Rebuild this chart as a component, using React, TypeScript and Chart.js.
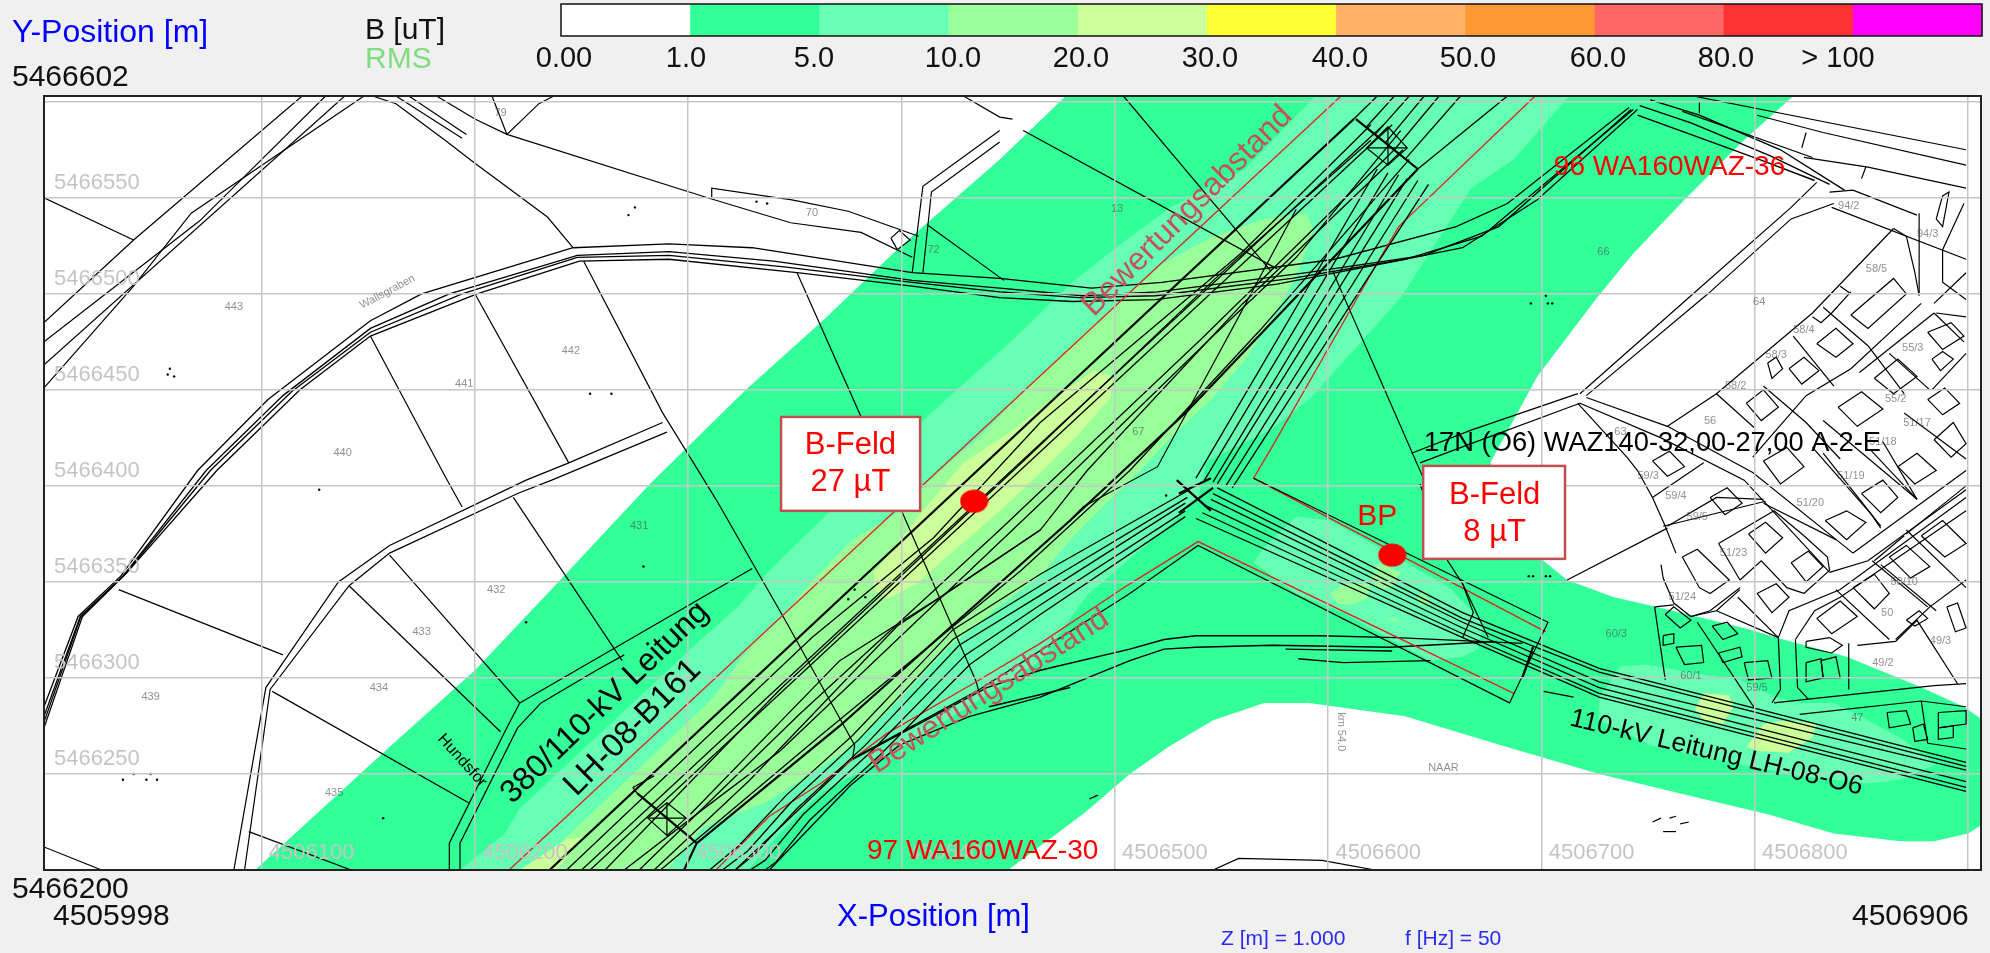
import React, { useEffect, useRef } from "react";
import { Chart, registerables } from "chart.js";

Chart.register(...registerables);

const E0 = 4506000;
const N0 = 5466200;
const FONT = '"Liberation Sans", Arial, sans-serif';

const xTicks = [4506100, 4506200, 4506300, 4506400, 4506500, 4506600, 4506700, 4506800, 4506900];
const yTicks = [5466250, 5466300, 5466350, 5466400, 5466450, 5466500, 5466550, 5466600];
const xLabelled = [4506100, 4506200, 4506300, 4506400, 4506500, 4506600, 4506700, 4506800];
const yLabelled = [5466250, 5466300, 5466350, 5466400, 5466450, 5466500, 5466550];

const legendColors = ["#ffffff", "#33ff99", "#66ffb3", "#99ff99", "#ccff99", "#ffff33", "#ffb266", "#ff9933", "#ff6666", "#ff3333", "#ff00ff"];
const legendLabels = ["0.00", "1.0", "5.0", "10.0", "20.0", "30.0", "40.0", "50.0", "60.0", "80.0", "> 100"];
const legendLabelX = [564, 686, 814, 953, 1081, 1210, 1340, 1468, 1598, 1726, 1838];

// field zones, metres east / north of E0, N0
const zone1 = [97,0,157,61,200,104,240,151,282,201,327,250,363,286,396,321,411,336,446,370,477,403,818,403,794,379,767,349,743,321,726,298,698,257,676,212,688,174,702,160,712,151,734,142,754,137,795,126,810,121,843,111,876,96,898,85,907,78,907,24,900,19,884,15,868,15,837,19,806,29,768,39,727,50,681,65,636,80,591,87,570,87,546,78,525,64,507,50,486,30,450,0];
const zone5Main = [193,0,214,19,221,32,301,115,323,137,338,156,362,182,409,233,426,250,452,276,480,306,504,327,526,345,561,365,594,403,713,403,687,370,667,355,634,298,592,246,573,229,543,213,539,193,527,181,487,143,465,109,440,91,424,80,393,59,362,40,343,19,328,0];
const zone5Bp = [565,160,570,168,585,184,601,182,632,163,657,147,667,135,673,129,670,115,663,111,648,109,629,120,607,134,585,144];
const zone5East = [727,90,737,106,749,107,774,102,793,99,810,90,821,87,837,87,853,78,868,69,885,55,868,47,853,45,821,49,784,57,751,65,727,78];
const zone10Main = [231,0,240,14,312,90,330,118,344,132,360,153,377,172,398,186,417,207,437,226,456,248,473,266,487,281,523,316,546,330,570,339,590,342,593,333,585,309,579,297,562,267,546,246,527,226,512,208,496,191,479,172,465,153,443,135,421,115,399,89,374,62,338,36,307,22,290,0];
const zone10Bp1 = [620,153,624,160,634,155,630,147,623,146];
const zone10Bp2 = [601,144,607,149,620,149,618,141,610,138,604,139];
const zone10Bp3 = [642,142,645,146,648,138,643,138];
const zone10Bp4 = [627,131,634,131,631,129];
const zone20Main = [387,155,393,163,410,187,429,212,452,229,468,243,490,260,499,257,498,246,484,228,468,210,452,193,440,181,421,163,407,149,393,141,387,146];
const zone20South = [221,0,243,16,251,17,238,0];
const zone20East1 = [772,84,776,92,788,91,790,85,785,76,776,78];
const zone20East2 = [796,64,804,76,815,78,829,76,827,69,816,61,802,62];

// assessment-distance outlines
const redLines = [
  [216,0,606,403],
  [697,403,633,335,624,318,573,219,565,204,702,124],
  [687,92,539,171,507,149,465,118,435,98,393,71,362,45,338,28,313,0],
];

// overhead conductors
const thickLines = [
  [235,0,612,391],
  [298,0,304,14,371,75,479,182,534,239,642,365],
  [276,40,304,14],
  [613,391,642,365],
  [696,116,691,100],
  [529,203,545,187],
  [530,196,545,204],
  [530,186,546,199],
];
const conductorLines = [
  [250,0,626,388],
  [254,0,630,388],
  [243,0,358,121,415,173,465,233,559,321,620,388],
  [270,0,305,30,343,62,468,194,546,278,585,319,634,385],
  [284,0,329,47,398,127,429,150,465,177,487,208,560,295,635,375],
  [261,0,343,94,460,216,549,310,620,380],
  [277,0,352,81,446,177,540,276,631,375],
  [287,0,362,70,456,156,507,208,568,281,638,370],
  [301,29,371,109,418,142,465,177],
  [612,391,623,403],[618,387,631,403],[622,383,638,403],[627,379,645,403],[631,375,652,403],[636,370,662,403],[642,365,684,403],
  [538,204,623,365],[542,203,628,363],[546,202,633,362],[548,201,637,360],[552,200,642,359],[555,199,647,357],
  [548,199,663,134,727,105,899,56],
  [546,196,663,131,727,103,899,54],
  [545,193,663,129,727,98,899,52],
  [542,190,663,126,727,95,899,46],
  [541,186,663,123,727,92,899,43],
  [538,183,663,121,727,90,899,41],
  [535,198,465,154,424,125,377,70,346,39,324,13,310,0],
  [534,194,465,148,424,120,380,68,348,35,328,10,316,0],
  [533,191,465,143,427,117,383,65,351,32,331,8,322,0],
  [533,187,465,138,430,112,386,62,354,29,336,5,329,0],
  [533,184,465,133,432,107,390,60,357,26,341,4,336,0],
];
const towerLines = [
  [290,35,299,27,290,18,281,27,290,35],
  [281,27,299,27],[290,35,290,18],
  [274,43,284,49],[274,43,276,40],
  [628,387,637,376,628,367,618,376,628,387],
  [618,376,637,376],[628,387,628,367],
  [565,204,703,129,685,87,539,169,507,144,435,93,377,58],
  [643,201,656,161,663,149,668,134,663,121],
  [663,149,675,121],
  [701,93,715,90],
];

// roads, ditch, parcels
const roadOuter = [-2,85,14,132,34,153,70,208,103,245,151,286,175,300,246,324,291,326,330,324,405,311,446,308,489,303,522,306,603,318,660,335,684,347,741,397];
const roadMid1 = [-2,80,15,132,35,153,74,208,110,247,151,282,188,300,248,320,291,322,340,317,405,307,446,303,485,299,520,301,590,311,645,320,680,335,742,396];
const roadMid2 = [-2,77,15,131,36,154,76,208,114,249,151,280,194,300,248,319,291,320,345,314,405,306,446,301,483,298,519,299,583,308,636,318,672,330,743,396];
const roadInner = [-2,74,16,132,37,155,79,208,118,250,151,278,201,300,249,317,291,318,351,311,405,304,446,298,480,296,519,297,576,305,627,316,663,324,698,349,745,396];
const roadParts = [
  [322,0,376,57,440,95,465,104,507,115,523,120,538,122,596,122,632,121,691,118],
  [338,0,376,44,399,65,432,80,465,90,507,109,523,115,538,116,574,117,629,116,679,119],
  [580,115,630,114],[586,110,607,108,648,109],[441,85,479,95],
  [745,393,765,385,802,370,828,359],[746,398,770,389,807,372,835,357],[751,401,774,393,812,375,842,354],
];
const parcelWest = [
  [119,403,40,328,-2,285],[130,403,71,338,-2,275],[139,403,-2,263],[148,403,67,342,40,304,-2,251],
  [-2,350,40,328],
  [152,403,163,399,186,380,200,368,234,340,246,324],
  [163,403,194,381],[169,403,196,383],
  [182,403,200,391,215,383,309,350,348,337,381,332,405,319],
  [311,350,311,355,342,350,348,349,375,343,408,330],
  [208,403,215,383,230,399,237,403],
  [429,403,446,392,452,391],[457,385,576,313],[504,403,573,312],[602,312,645,203],
  [446,385,410,356,405,311],[446,379,414,353,410,311],[412,336,448,307],
  [395,329,399,333,404,328,398,323,395,329],
  [585,344,558,288,537,245,520,210,485,189,479,182],
  [251,317,288,238,313,193,346,129,378,65,377,58],
  [351,311,381,236,400,187,435,98,437,90],
  [200,300,244,212],
  [288,233,244,212,224,203,160,169,136,150,102,95,87,0],
  [290,228,236,203,220,196,160,165,141,148,104,94,92,0],
  [151,278,186,205,194,189],[218,194,269,109],[33,146,110,112],[141,148,212,72],
  [160,164,221,87,330,157],[105,93,197,35],[94,20,142,0],[-2,12,25,0],
  [221,87,214,72,188,14,188,0],[231,87,220,74,193,14,193,0],[231,87,257,104,270,112],
  [546,0,558,6,597,5,622,0],
  [752,25,756,27],[760,27,763,28],[765,24,769,25],[757,20,763,20],[488,37,492,39],
];
const parcelEast = [
  [771,403,899,375],[801,393,832,384,899,367],[823,371,853,366,899,355],[836,345,899,318],
  [829,358,817,345,770,299,718,248],[837,347,817,339,778,300,721,247],
  [717,248,667,229,639,217],[718,243,667,222,643,212],
  [721,246,759,231,799,207,846,165],[718,243,756,225,795,203,835,155],
  [877,342,877,300],[871,330,875,311,877,299],[898,347,888,323,888,306,899,297],
  [835,353,846,354,876,341],[885,339,888,351,891,353,888,335,885,339],
  [865,334,827,290,782,248,759,231],[782,248,800,230],
  [832,293,853,273,870,248],[818,278,837,252],
  [884,290,849,259],[878,295,845,261,824,247,799,215],[885,290,899,288],
  [846,165,899,208],[835,155,853,161,899,198],[811,121,816,135,840,146,899,194],[819,120,828,135,840,142,899,187],
  [763,165,758,179,752,194,745,208,740,215,717,243],
  [756,159,757,152,762,139,770,132,779,135,793,147],
  [759,179,782,194,804,193],[752,194,776,212],
  [753,137,758,99],[753,137,762,138],[773,129,800,84],
  [809,87,825,89,884,96,899,97],[821,81,878,88,899,85],[878,88,881,66],[881,66,899,63],
  [811,121,812,94,808,87],[819,120,820,95,825,89],[844,118,844,94],
  [848,117,866,119,876,130,895,97],
  [855,161,881,137],[838,146,863,120],[871,177,899,147],[859,179,832,217],[876,193,854,219],[832,234,876,193],[870,238,899,214],
  [712,151,759,178],
  [804,252,824,233,840,214],[860,223,876,193],[827,220,854,186,859,178],[757,179,805,192],
  [783,170,809,187,823,174],[783,170,793,151],[793,151,803,161,815,147,823,144],[823,144,835,156,834,163,823,174],
  [811,121,792,142],[770,132,782,135,793,146],[782,135,811,121],
  [859,159,885,135],[899,151,882,137,866,120],[856,161,870,174],[899,200,871,175],[838,172,804,191],
  [852,366,850,360],[824,384,822,376],[774,400,774,394],[766,395,827,371],
  [845,301,836,290,831,285,827,288],[840,304,845,300],[871,330,865,334],
  [884,290,898,275],[882,250,863,269],[899,311,884,295],[899,269,883,250],
];
const houses = [
  [752,213,760,218,767,210,759,205],[779,194,787,199,794,191,786,185],[796,243,804,250,811,241,803,234],
  [839,241,850,249,860,240,848,231],[804,213,815,220,823,210,812,201],[867,210,876,217,885,208,875,201],
  [850,196,860,203,867,194,859,186],[833,182,843,187,852,181,843,172],[797,175,805,181,813,173,805,165],
  [817,160,825,166,832,158,824,150],[801,144,810,149,816,142,808,134],[766,163,773,167,788,151,779,144,774,147],
  [846,147,856,154,863,144,856,136],[829,131,840,140,848,132,836,123],[878,174,888,182,899,170,889,163],
  [890,137,895,139,899,126,894,124],[871,130,877,135,881,131,875,127],[863,163,871,169,882,158,873,152],
  [881,245,889,251,896,243,888,237],[884,224,893,233,899,222,892,215],[758,133,762,137,770,130,765,126],
  [757,122,762,123,762,118,757,117],[763,116,775,117,776,108,767,107],[780,127,787,129,792,123,785,120],
  [795,108,806,109,808,100,797,99],[824,108,831,110,832,100,824,98],[831,109,838,111,840,100,832,100],
  [824,119,835,121,841,117,836,113,824,116],[783,113,793,116,794,111,785,108],[862,82,871,83,873,76,863,74],
  [874,74,879,76,881,68,875,67],[886,82,899,83,899,76,886,74],[886,74,893,75,893,69,886,68],
  [845,289,865,308,871,300,853,282],[829,274,838,282,846,274,838,267],[816,261,823,267,830,260,822,253],
  [856,256,867,266,876,257,865,248],[881,280,892,285,898,278,888,271],[883,266,888,270,893,266,887,260],
  [806,264,810,267,813,261,808,256],
];
const specks = [56,258,57,261,59,257,254,248,264,248,272,341,275,345,332,348,337,347,127,198,224,129,157,27,279,158,40,50,48,50,35,47,46,47,51,47,375,141,378,146,383,142,524,195,695,295,702,299,703,295,705,295,694,153,696,153,702,153,704,153];
const measured = [434,192,630,164];
const calloutBoxes = [[343.5,235.9,408.7,187],[644.5,210.4,711,162]];

// text, x, y, angle (deg), size, colour
const mapTexts: [string, number, number, number, number, string][] = [
  ["Bewertungsabstand", 534, 343, -45, 32, "#c4525c"],
  ["Bewertungsabstand", 441, 93, -32.8, 31.5, "#c4525c"],
  ["380/110-kV Leitung", 261, 87, -44, 32, "#000000"],
  ["LH-08-B161", 274, 74, -45, 33, "#000000"],
  ["110-kV Leitung LH-08-O6", 782, 61, 13.4, 26.5, "#000000"],
  ["96 WA160WAZ-36", 760, 366, 0, 28, "#ff0000"],
  ["97 WA160WAZ-30", 438, 10, 0, 28, "#ff0000"],
  ["17N (O6) WAZ140-32,00-27,00 A-2-E", 752, 222, 0, 27.3, "#000000"],
  ["BP", 623, 184, 0, 30, "#ff0000"],
  ["B-Feld", 376, 221, 0, 31, "#ff0000"],
  ["27 µT", 376, 202, 0, 31, "#ff0000"],
  ["B-Feld", 678, 195, 0, 31, "#ff0000"],
  ["8 µT", 678, 176, 0, 31, "#ff0000"],
  ["Hundsfor", 194, 57, 48, 16, "#000000"],
];
const parcelTexts: [string, number, number][] = [
  ["79",212,394],["70",358,342],["72",415,323],["443",87,293],["442",245,270],["441",195,253],["440",138,217],
  ["431",277,179],["432",210,146],["433",175,124],["434",155,95],["439",48,90],["435",134,40],["13",501,344],
  ["67",511,228],["66",729,322],["94/2",844,346],["94/3",881,331],["58/5",857,313],["64",802,296],["58/4",823,281],
  ["58/3",810,268],["58/2",791,252],["56",779,234],["63",737,228],["51/17",876,233],["55/3",874,272],["55/2",866,245],
  ["51/18",860,223],["51/19",845,205],["51/20",826,191],["59/3",750,205],["59/4",763,195],["59/5",773,184],
  ["51/23",790,165],["51/24",766,142],["60/3",735,123],["60/1",770,101],["59/5",801,95],["50",862,134],["49/3",887,119],
  ["49/2",860,108],["47",848,79],["50/10",870,150],["NAAR",654,53],
];

const pts = (flat: number[]) => {
  const out: { x: number; y: number }[] = [];
  for (let i = 0; i < flat.length; i += 2) out.push({ x: E0 + flat[i], y: N0 + flat[i + 1] });
  return out;
};

const area = (flat: number[], color: string) => ({
  data: pts(flat), showLine: true, fill: "shape", backgroundColor: color, borderWidth: 0, borderColor: color, pointRadius: 0,
});
const stroke = (flat: number[], color: string, width: number) => ({
  data: pts(flat), showLine: true, fill: false, borderColor: color, borderWidth: width, pointRadius: 0,
});

function dotImage() {
  const c = document.createElement("canvas");
  c.width = 29; c.height = 24;
  const g = c.getContext("2d")!;
  g.fillStyle = "#ff0000";
  g.beginPath();
  g.ellipse(14.5, 12, 14, 11.5, 0, 0, Math.PI * 2);
  g.fill();
  return c;
}

const decor = {
  id: "decor",
  beforeDraw(chart: any) {
    const { ctx, chartArea: a } = chart;
    ctx.save();
    ctx.fillStyle = "#f0f0f0";
    ctx.fillRect(0, 0, chart.width, chart.height);
    ctx.fillStyle = "#ffffff";
    ctx.fillRect(a.left, a.top, a.right - a.left, a.bottom - a.top);
    ctx.restore();
  },
  afterDraw(chart: any) {
    const { ctx, chartArea: a, scales } = chart;
    const X = (v: number) => scales.x.getPixelForValue(E0 + v);
    const Y = (v: number) => scales.y.getPixelForValue(N0 + v);
    ctx.save();
    // parcel numbers
    ctx.textAlign = "center";
    ctx.textBaseline = "middle";
    ctx.font = `11px ${FONT}`;
    ctx.fillStyle = "rgba(70,70,70,0.6)";
    parcelTexts.forEach(([t, x, y]) => ctx.fillText(t, X(x), Y(y)));
    ctx.save();
    ctx.translate(X(606), Y(72));
    ctx.rotate(Math.PI / 2);
    ctx.fillText("km 54.0", 0, 0);
    ctx.restore();
    ctx.save();
    ctx.translate(X(159), Y(301));
    ctx.rotate((-28 * Math.PI) / 180);
    ctx.fillText("Wallsgraben", 0, 0);
    ctx.restore();
    // callouts
    calloutBoxes.forEach(([x1, y1, x2, y2]) => {
      ctx.fillStyle = "#ffffff";
      ctx.fillRect(X(x1), Y(y1), X(x2) - X(x1), Y(y2) - Y(y1));
      ctx.strokeStyle = "#c05050";
      ctx.lineWidth = 2.5;
      ctx.strokeRect(X(x1), Y(y1), X(x2) - X(x1), Y(y2) - Y(y1));
    });
    // map labels
    mapTexts.forEach(([t, x, y, ang, size, color]) => {
      ctx.save();
      ctx.translate(X(x), Y(y));
      ctx.rotate((ang * Math.PI) / 180);
      ctx.font = `${size}px ${FONT}`;
      ctx.fillStyle = color;
      ctx.fillText(t, 0, 0);
      ctx.restore();
    });
    // frame
    ctx.strokeStyle = "#222222";
    ctx.lineWidth = 2;
    ctx.strokeRect(a.left, a.top, a.right - a.left, a.bottom - a.top);
    // colour key
    const left = 561, cell = (1982 - 561) / 11;
    legendColors.forEach((c, i) => {
      ctx.fillStyle = c;
      ctx.fillRect(left + i * cell, 4, cell + 0.5, 32);
    });
    ctx.strokeStyle = "#111111";
    ctx.lineWidth = 1.5;
    ctx.strokeRect(left, 4, 1982 - left, 32);
    ctx.font = `29px ${FONT}`;
    ctx.fillStyle = "#111111";
    legendLabels.forEach((t, i) => ctx.fillText(t, legendLabelX[i], 59));
    // corner and axis captions
    ctx.textAlign = "left";
    ctx.font = `32px ${FONT}`;
    ctx.fillStyle = "#0000ff";
    ctx.fillText("Y-Position [m]", 12, 33);
    ctx.font = `31px ${FONT}`;
    ctx.fillText("X-Position [m]", 837, 917);
    ctx.font = `30px ${FONT}`;
    ctx.fillStyle = "#111111";
    ctx.fillText("B [uT]", 365, 31);
    ctx.fillText("5466602", 12, 78);
    ctx.fillText("5466200", 12, 890);
    ctx.fillText("4505998", 53, 917);
    ctx.fillText("4506906", 1852, 917);
    ctx.fillStyle = "#7fdc7f";
    ctx.fillText("RMS", 365, 60);
    ctx.font = `21px ${FONT}`;
    ctx.fillStyle = "#2a2af0";
    ctx.fillText("Z [m] = 1.000", 1221, 939);
    ctx.fillText("f [Hz] = 50", 1405, 939);
    ctx.restore();
  },
};

export default function App() {
  const ref = useRef<HTMLCanvasElement>(null);
  useEffect(() => {
    const layered: any[] = [
      area(zone1, "#33ff99"),
      area(zone5Main, "#66ffb3"),
      area(zone5Bp, "#66ffb3"),
      area(zone5East, "#66ffb3"),
      area(zone10Main, "#99ff99"),
      area(zone10Bp1, "#99ff99"),
      area(zone10Bp2, "#99ff99"),
      area(zone10Bp3, "#99ff99"),
      area(zone10Bp4, "#99ff99"),
      area(zone20Main, "#ccff99"),
      area(zone20South, "#ccff99"),
      area(zone20East1, "#ccff99"),
      area(zone20East2, "#ccff99"),
      ...parcelWest.map((l) => stroke(l, "#000000", 1.2)),
      ...parcelEast.map((l) => stroke(l, "#000000", 1.2)),
      ...houses.map((l) => stroke([...l, l[0], l[1]], "#000000", 1.2)),
      stroke(roadOuter, "#000000", 1.3),
      stroke(roadMid1, "#000000", 1.3),
      stroke(roadMid2, "#000000", 1.3),
      stroke(roadInner, "#000000", 1.3),
      ...roadParts.map((l) => stroke(l, "#000000", 1.4)),
      ...redLines.map((l) => stroke(l, "#e02020", 1.3)),
      ...conductorLines.map((l) => stroke(l, "#000000", 1.3)),
      ...towerLines.map((l) => stroke(l, "#000000", 1.2)),
      ...thickLines.map((l) => stroke(l, "#000000", 2.2)),
      { data: pts(specks), showLine: false, pointRadius: 1.2, pointBackgroundColor: "#000000", pointBorderWidth: 0 },
      { data: pts(measured), showLine: false, pointStyle: dotImage(), pointRadius: 14 },
    ];
    const noPadding = () => ({ left: 0, top: 0, right: 0, bottom: 0 });
    const chart = new Chart(ref.current!, {
      type: "scatter",
      data: { datasets: layered.reverse() },
      options: {
        animation: false,
        responsive: false,
        devicePixelRatio: 1,
        layout: { autoPadding: false, padding: { left: 44, right: 9, top: 96, bottom: 83 } },
        plugins: { legend: { display: false }, tooltip: { enabled: false } },
        scales: {
          x: {
            type: "linear",
            min: 4505998,
            max: 4506906,
            afterBuildTicks: (s: any) => { s.ticks = xTicks.map((value) => ({ value })); },
            afterFit: (s: any) => { s.height = 0; s.getPadding = noPadding; },
            border: { display: false },
            grid: { z: 1, color: "#c6c6c6", lineWidth: 1.5, drawTicks: false },
            ticks: {
              z: 1, autoSkip: false, maxRotation: 0, minRotation: 0, mirror: true,
              color: "#c4c4c4", font: { family: FONT, size: 22 },
              padding: 4, labelOffset: 50,
              callback: (v: any) => (xLabelled.includes(Number(v)) ? String(v) : ""),
            },
          },
          y: {
            type: "linear",
            min: 5466200,
            max: 5466603,
            afterBuildTicks: (s: any) => { s.ticks = yTicks.map((value) => ({ value })); },
            afterFit: (s: any) => { s.width = 0; s.getPadding = noPadding; },
            border: { display: false },
            grid: { z: 1, color: "#c6c6c6", lineWidth: 1.5, drawTicks: false },
            ticks: {
              z: 1, autoSkip: false, mirror: true,
              color: "#c4c4c4", font: { family: FONT, size: 22 },
              padding: 10, labelOffset: -15,
              callback: (v: any) => (yLabelled.includes(Number(v)) ? String(v) : ""),
            },
          },
        },
      } as any,
      plugins: [decor],
    } as any);
    return () => chart.destroy();
  }, []);
  return (
    <div style={{ position: "fixed", left: 0, top: 0, width: 1990, height: 953, background: "#f0f0f0" }}>
      <canvas ref={ref} width={1990} height={953} style={{ display: "block", width: 1990, height: 953 }} />
    </div>
  );
}
